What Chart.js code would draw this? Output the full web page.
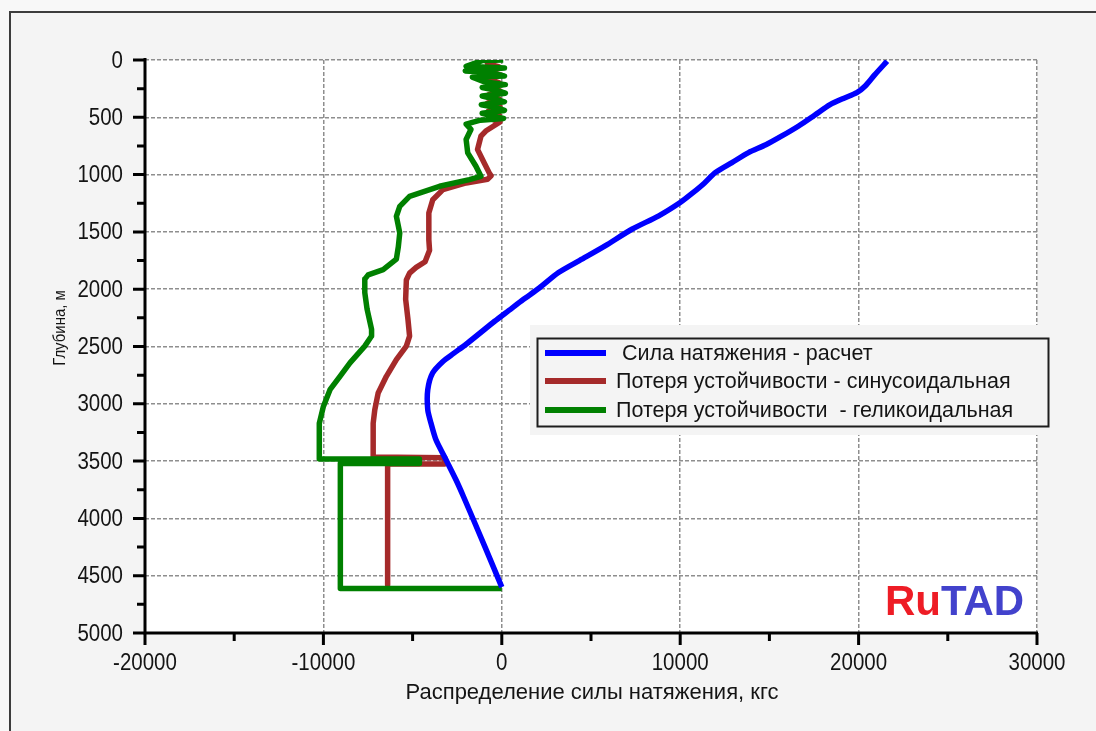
<!DOCTYPE html>
<html>
<head>
<meta charset="utf-8">
<script src="https://cdn.jsdelivr.net/npm/chart.js@4.4.1/dist/chart.umd.min.js"></script>
<style>
  html, body { margin: 0; padding: 0; background: #f4f4f4; overflow: hidden; }
  canvas { display: block; }
</style>
</head>
<body>
<canvas id="chart" width="1096" height="731"></canvas>
<script>
// ---- Data: force along the string (kgf) versus measured depth (m) ----
const seriesNames = [
  ' Сила натяжения - расчет',
  'Потеря устойчивости - синусоидальная',
  'Потеря устойчивости  - геликоидальная'
];
const xAxisTitle = 'Распределение силы натяжения, кгс';
const yAxisTitle = 'Глубина, м';
const xTickStep = 10000;
const yTickStep = 500;

// Calculated tension
const tensionForce = [21600, 20900, 20370, 19900, 19150, 18400, 17550, 16640, 15700, 14800, 13830, 12900,
  11960, 11350, 10700, 10000, 8800, 7290, 5790, 4490, 3180, 2100, 1200, 400, -400, -1200, -2000, -2700,
  -3300, -3880, -4150, -4150, -3970, -3690, -3220, -2570, -2150, -950, 0];
const tensionDepth = [10, 130, 227, 285, 335, 390, 480, 576, 663, 740, 808, 895,
  983, 1075, 1160, 1244, 1360, 1477, 1622, 1738, 1855, 1990, 2090, 2185, 2280, 2380, 2480, 2560,
  2630, 2731, 2877, 3052, 3168, 3314, 3460, 3663, 3809, 4246, 4600];

// Sinusoidal buckling limit
const sinForce = [-300, -800, -150, -800, -100, -750, -150, -800, -100, -750, -150, -800, -100, -750,
  -150, -700, -100, -500, -900, -1170, -1360, -985, -705, -600, -800, -2000, -3300, -3870, -4090,
  -4090, -4050, -4300, -4800, -5170, -5350, -5390, -5260, -5170, -5350, -5910, -6470, -6930, -7120,
  -7210, -7210, -3200, -3200, -6400, -6400];
const sinDepth = [0, 30, 60, 95, 130, 165, 200, 235, 270, 305, 340, 375, 410, 445,
  480, 510, 540, 580, 620, 665, 781, 898, 985, 1010, 1040, 1073, 1131, 1219, 1335,
  1568, 1660, 1760, 1810, 1860, 1920, 2088, 2263, 2409, 2497, 2614, 2760, 2906, 3053,
  3170, 3465, 3470, 3525, 3525, 4580];

// Helical buckling limit
const helForce = [80, -1100, -2000, 150, -2050, -600, 150, -1650, -1000, 200, -1100, -300, 200, -1100,
  -400, 150, -1150, -300, 150, -1100, -500, 100, -1200, -2000, -1730, -2000, -1910, -1450, -1170,
  -1820, -3490, -5170, -5720, -5910, -5720, -5800, -5910, -6650, -7490, -7680, -7680, -7550, -7300,
  -7300, -7680, -8510, -9070, -9630, -10000, -10230, -10230, -4620, -4620, -9050, -9050, 0];
const helDepth = [0, 5, 55, 70, 95, 110, 140, 150, 190, 215, 240, 265, 290, 315,
  340, 365, 390, 415, 440, 465, 490, 510, 525, 560, 606, 694, 810, 927, 1015,
  1044, 1102, 1190, 1277, 1364, 1510, 1630, 1737, 1830, 1875, 1912, 2029, 2175, 2351,
  2409, 2497, 2643, 2760, 2877, 3023, 3170, 3482, 3482, 3522, 3522, 4612, 4612];

const seriesColors = ['#0000ff', '#a52a2a', '#008000'];

const toPoints = (xs, ys) => xs.map((x, i) => ({ x: x, y: ys[i] }));

const FONT = '"Liberation Sans", Arial, sans-serif';
const TEXT = '#141414';

// Background panel, outer frame and white plotting area
const framePlugin = {
  id: 'frame',
  beforeDraw(chart) {
    const { ctx, chartArea: a } = chart;
    ctx.save();
    ctx.fillStyle = '#f8f8f8';
    ctx.fillRect(0, 0, chart.width, chart.height);
    ctx.fillStyle = '#f4f4f4';
    ctx.fillRect(10, 12, chart.width - 10, chart.height - 12);
    ctx.strokeStyle = '#3c3c3c';
    ctx.lineWidth = 2;
    ctx.beginPath();
    ctx.moveTo(10, chart.height);
    ctx.lineTo(10, 12);
    ctx.lineTo(chart.width, 12);
    ctx.stroke();
    ctx.fillStyle = '#ffffff';
    ctx.fillRect(a.left, a.top, a.right - a.left, a.bottom - a.top);
    ctx.restore();
  }
};

// Tick label drawn with slightly tall glyphs
function tallText(ctx, text, x, y, align, base) {
  ctx.save();
  ctx.translate(x, y);
  ctx.scale(1, 1.15);
  ctx.textAlign = align;
  ctx.textBaseline = base;
  ctx.fillText(text, 0, 0);
  ctx.restore();
}

// Axis lines, tick marks and tick labels, legend, logo and axis titles
const decorPlugin = {
  id: 'decor',
  afterDraw(chart) {
    const { ctx, chartArea: a } = chart;
    const xs = chart.scales.x, ys = chart.scales.y;
    ctx.save();
    ctx.strokeStyle = '#000';
    ctx.lineWidth = 3;
    ctx.lineCap = 'butt';
    ctx.beginPath();
    ctx.moveTo(a.left, a.top - 2);
    ctx.lineTo(a.left, a.bottom);
    ctx.lineTo(a.right + 1, a.bottom);
    ctx.stroke();
    ctx.beginPath();
    for (let v = ys.min; v <= ys.max; v += yTickStep / 2) {
      const p = ys.getPixelForValue(v);
      const len = (v % yTickStep === 0) ? 12 : 8;
      ctx.moveTo(a.left - len, p);
      ctx.lineTo(a.left, p);
    }
    for (let v = xs.min; v <= xs.max; v += xTickStep / 2) {
      const p = xs.getPixelForValue(v);
      const len = (v % xTickStep === 0) ? 12 : 8;
      ctx.moveTo(p, a.bottom);
      ctx.lineTo(p, a.bottom + len);
    }
    ctx.stroke();

    ctx.fillStyle = TEXT;
    ctx.font = '20.5px ' + FONT;
    ys.ticks.forEach((t) => {
      tallText(ctx, String(t.value), a.left - 22, ys.getPixelForValue(t.value) + 1, 'right', 'middle');
    });
    xs.ticks.forEach((t) => {
      tallText(ctx, String(t.value), xs.getPixelForValue(t.value), a.bottom + 30, 'center', 'middle');
    });

    // Legend
    ctx.fillStyle = '#f4f4f4';
    ctx.fillRect(530, 325, 526, 110);
    ctx.strokeStyle = '#1e1e1e';
    ctx.lineWidth = 2;
    ctx.strokeRect(537.5, 338.5, 511, 88);
    const rowY = [353, 381, 410];
    ctx.font = '21.5px ' + FONT;
    ctx.textAlign = 'left';
    ctx.textBaseline = 'middle';
    seriesNames.forEach((name, i) => {
      ctx.strokeStyle = seriesColors[i];
      ctx.lineWidth = 6;
      ctx.beginPath();
      ctx.moveTo(545, rowY[i]);
      ctx.lineTo(606, rowY[i]);
      ctx.stroke();
      ctx.fillStyle = TEXT;
      ctx.fillText(name, 616, rowY[i] + 1);
    });

    // Logo
    ctx.font = 'bold 42px ' + FONT;
    ctx.textBaseline = 'alphabetic';
    ctx.fillStyle = '#ee1c25';
    ctx.fillText('Ru', 885, 615);
    const w = ctx.measureText('Ru').width;
    ctx.fillStyle = '#4242cc';
    ctx.fillText('TAD', 885 + w, 615);

    // Axis titles
    ctx.fillStyle = TEXT;
    ctx.font = '22px ' + FONT;
    ctx.textAlign = 'center';
    ctx.textBaseline = 'alphabetic';
    ctx.fillText(xAxisTitle, 592, 699);
    ctx.translate(60, 328);
    ctx.rotate(-Math.PI / 2);
    ctx.scale(0.88, 1);
    ctx.font = '17px ' + FONT;
    ctx.textBaseline = 'middle';
    ctx.fillText(yAxisTitle, 0, 0);
    ctx.restore();
  }
};

const lineStyle = (i, t) => ({
  showLine: true,
  borderColor: seriesColors[i],
  backgroundColor: seriesColors[i],
  borderWidth: 5.5,
  pointRadius: 0,
  pointHoverRadius: 0,
  tension: t,
  fill: false,
  borderJoinStyle: 'round',
  borderCapStyle: 'butt'
});

new Chart(document.getElementById('chart'), {
  type: 'scatter',
  data: {
    datasets: [
      Object.assign({ label: seriesNames[0], data: toPoints(tensionForce, tensionDepth), order: 0 }, lineStyle(0, 0.25)),
      Object.assign({ label: seriesNames[1], data: toPoints(sinForce, sinDepth), order: 2 }, lineStyle(1, 0)),
      Object.assign({ label: seriesNames[2], data: toPoints(helForce, helDepth), order: 1 }, lineStyle(2, 0))
    ]
  },
  options: {
    responsive: false,
    animation: false,
    devicePixelRatio: 1,
    layout: { padding: { left: 0, top: 60, right: 59, bottom: 0 } },
    plugins: { legend: { display: false }, tooltip: { enabled: false } },
    scales: {
      x: {
        type: 'linear',
        min: -20000,
        max: 30000,
        afterFit(s) { s.height = 98; s.paddingLeft = 0; s.paddingRight = 0; },
        ticks: { stepSize: xTickStep, display: false, autoSkip: false },
        grid: { color: '#8e8e8e', lineWidth: 1.5, drawTicks: false },
        border: { display: false, dash: [4, 2] }
      },
      y: {
        type: 'linear',
        reverse: true,
        min: 0,
        max: 5000,
        afterFit(s) { s.width = 145; s.paddingTop = 0; s.paddingBottom = 0; },
        ticks: { stepSize: yTickStep, display: false, autoSkip: false },
        grid: { color: '#8e8e8e', lineWidth: 1.5, drawTicks: false },
        border: { display: false, dash: [4, 2] }
      }
    }
  },
  plugins: [framePlugin, decorPlugin]
});
</script>
</body>
</html>
